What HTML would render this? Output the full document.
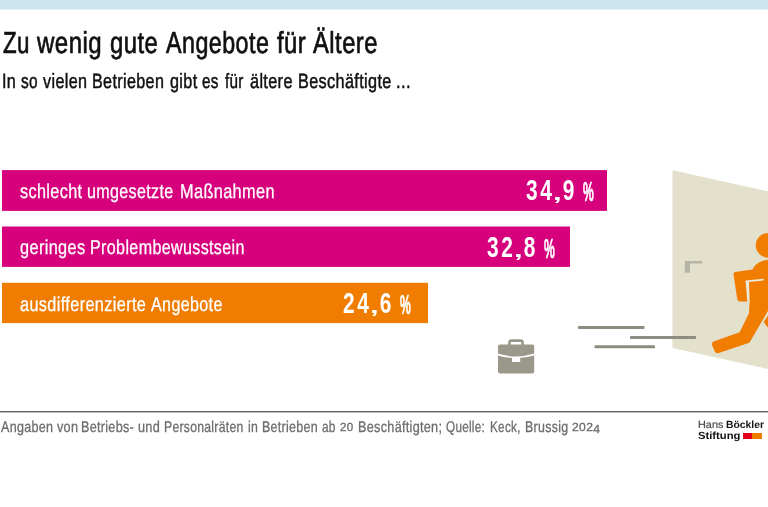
<!DOCTYPE html>
<html lang="de">
<head>
<meta charset="utf-8">
<title>Zu wenig gute Angebote für Ältere</title>
<style>
  html, body { margin: 0; padding: 0; }
  body {
    width: 768px; height: 507px; overflow: hidden; position: relative;
    background: #ffffff;
    font-family: "Liberation Sans", sans-serif;
    color: #161616;
  }
  .topband { position: absolute; left: 0; top: 0; width: 768px; height: 10px; background: linear-gradient(#cde5ee 0, #cde5ee 9px, #e8f3f7 9px, #e8f3f7 10px); }
  h1, p { margin: 0; font-weight: 400; }
  .w { position: absolute; white-space: nowrap; transform-origin: 0 0; line-height: 1; text-rendering: geometricPrecision; }
  .h .w { font-size: 30.4px; top: 28.00px; color: #101010; letter-spacing: 0.6px; -webkit-text-stroke: 0.7px #101010; }
  .s .w { font-size: 20.6px; top: 72.00px; color: #101010; letter-spacing: 0.45px; -webkit-text-stroke: 0.5px #101010; }
  .l1 .w { font-size: 20.1px; top: 182.00px; color: #ffffff; letter-spacing: 0.45px; -webkit-text-stroke: 0.3px #ffffff; }
  .l2 .w { font-size: 20.1px; top: 238.00px; color: #ffffff; letter-spacing: 0.45px; -webkit-text-stroke: 0.3px #ffffff; }
  .l3 .w { font-size: 20.1px; top: 295.00px; color: #ffffff; letter-spacing: 0.45px; -webkit-text-stroke: 0.3px #ffffff; }
  .f .w { font-size: 15.5px; top: 420.00px; color: #6c6c6c; letter-spacing: 0.35px; -webkit-text-stroke: 0.3px #6c6c6c; }
  .g1 .w { font-size: 10.4px; top: 421.00px; color: #4a4a4a; -webkit-text-stroke: 0.2px #4a4a4a; }
  .g2 .w { font-size: 10.4px; top: 421.00px; color: #111111; font-weight: 700; -webkit-text-stroke: 0px #111111; }
  .g3 .w { font-size: 10.4px; top: 432.00px; color: #111111; font-weight: 700; -webkit-text-stroke: 0px #111111; }
  .val { position: absolute; white-space: nowrap; transform-origin: 0 0; line-height: 1; color: #fff; font-size: 28.6px; font-weight: 700; letter-spacing: 3.53px; transform: scaleX(0.731); }
  .val .cm { display: inline-block; transform: scale(1.5,0.7); transform-origin: 35% 86%; }
  .val .pc { display: inline-block; font-weight: 700; font-size: 27.6px; letter-spacing: 0; -webkit-text-stroke: 0.7px #fff; transform: translateY(1.2px) scaleX(0.6); transform-origin: 0 50%; margin-left: -2.8px; }
  .v1 { left: 525.8px; top: 176.2px; }
  .v2 { left: 487.3px; top: 233.2px; }
  .v3 { left: 343.3px; top: 288.7px; }
  .rule { position: absolute; left: 0; top: 411px; width: 768px; height: 2px; background: linear-gradient(#686868 0, #686868 1px, #bdbdbd 1px, #bdbdbd 2px); }
  .sq { position: absolute; top: 433px; height: 6px; }
  .sq.r { left: 742.5px; width: 9.6px; background: #e2001a; }
  .sq.o { left: 752px; width: 10px; background: #f07d00; }
  svg.art { position: absolute; left: 0; top: 0; width: 768px; height: 507px; }
</style>
</head>
<body>
  <div class="topband"></div>
  <h1 class="h"><span class="w" style="left:3.00px;transform:scaleX(0.734);">Zu</span> <span class="w" style="left:37.00px;transform:scaleX(0.790);">wenig</span> <span class="w" style="left:110.00px;transform:scaleX(0.784);">gute</span> <span class="w" style="left:166.00px;transform:scaleX(0.766);">Angebote</span> <span class="w" style="left:277.00px;transform:scaleX(0.782);">für</span> <span class="w" style="left:313.00px;transform:scaleX(0.782);">Ältere</span></h1>
  <p class="s"><span class="w" style="left:2.00px;transform:scaleX(0.788);">In</span> <span class="w" style="left:21.00px;transform:scaleX(0.750);">so</span> <span class="w" style="left:43.00px;transform:scaleX(0.785);">vielen</span> <span class="w" style="left:92.00px;transform:scaleX(0.783);">Betrieben</span> <span class="w" style="left:170.00px;transform:scaleX(0.785);">gibt</span> <span class="w" style="left:202.00px;transform:scaleX(0.739);">es</span> <span class="w" style="left:225.00px;transform:scaleX(0.739);">für</span> <span class="w" style="left:250.00px;transform:scaleX(0.789);">ältere</span> <span class="w" style="left:298.00px;transform:scaleX(0.789);">Beschäftigte</span> <span class="w" style="left:396.00px;transform:scaleX(0.804);">...</span></p>

  <svg class="art" viewBox="0 0 768 507" aria-hidden="true">
    <rect x="2" y="170.1" width="605" height="40.8" fill="#d6007d"/>
    <rect x="2" y="226.5" width="568" height="40.4" fill="#d6007d"/>
    <rect x="2" y="282.8" width="426" height="40.3" fill="#f07d00"/>
    <polygon points="672.5,170.2 768,191.3 768,369 672.5,348" fill="#e3e0cb"/>
    <path d="M684.8 261 H702.2 V263.5 H690 V272.8 H684.8 Z" fill="#b7b5a5"/>
    <g fill="#8e8c7e">
      <rect x="578" y="326" width="66.5" height="3" rx="0.8"/>
      <rect x="630" y="336" width="66" height="3" rx="0.8"/>
      <rect x="594.5" y="345.3" width="60.5" height="3" rx="0.8"/>
    </g>
    <g>
      <rect x="498" y="344.6" width="36.2" height="29" rx="2" fill="#9a988a"/>
      <path d="M509.4 345 V342.6 Q509.4 340.6 511.4 340.6 H520.6 Q522.6 340.6 522.6 342.6 V345" fill="none" stroke="#9a988a" stroke-width="2.6"/>
      <path d="M497.5 354.4 Q516 360.2 534.7 354.4" fill="none" stroke="#fff" stroke-width="1.7"/>
      <rect x="512" y="357.8" width="8.2" height="4.2" fill="#fff"/>
    </g>
    <g fill="#f07d00">
      <circle cx="768.2" cy="245.3" r="12.4"/>
      <path d="M769 259.6 C760 260.5 755 264 752.5 269.6 L735.2 272.1 Q733.2 272.5 733.5 274.5 L737.3 299.2 Q737.7 301.6 740 301.6 L749.6 301.6 L749 313.3 L739.6 332.3 L714.2 341.3 Q711 342.5 712.2 345.4 L714.8 351.5 Q715.9 353.9 718.7 353 L748.6 343 Q749.6 342.7 750.2 341.6 L769 309 Z"/>
      <path d="M763.6 321.9 L769 329 L769 314 Z"/>
    </g>
    <path d="M745.5 280.4 L763.6 278.8 L763.6 280.4 L749 282 L749.7 302.2 L747.4 302.2 Z" fill="#ebe9da"/>
  </svg>

  <span class="val v1">34<span class="cm">,</span>9 <span class="pc">%</span></span>
  <span class="val v2">32<span class="cm">,</span>8 <span class="pc">%</span></span>
  <span class="val v3">24<span class="cm">,</span>6 <span class="pc">%</span></span>
  <div class="l1"><span class="w" style="left:20.00px;transform:scaleX(0.808);">schlecht</span> <span class="w" style="left:87.00px;transform:scaleX(0.799);">umgesetzte</span> <span class="w" style="left:180.00px;transform:scaleX(0.812);">Maßnahmen</span></div>
  <div class="l2"><span class="w" style="left:20.00px;transform:scaleX(0.812);">geringes</span> <span class="w" style="left:90.00px;transform:scaleX(0.800);">Problembewusstsein</span></div>
  <div class="l3"><span class="w" style="left:20.00px;transform:scaleX(0.810);">ausdifferenzierte</span> <span class="w" style="left:151.00px;transform:scaleX(0.800);">Angebote</span></div>

  <div class="rule"></div>
  <p class="f"><span class="w" style="left:1.00px;transform:scaleX(0.811);">Angaben</span> <span class="w" style="left:57.00px;transform:scaleX(0.815);">von</span> <span class="w" style="left:81.00px;transform:scaleX(0.814);">Betriebs-</span> <span class="w" style="left:138.00px;transform:scaleX(0.819);">und</span> <span class="w" style="left:164.00px;transform:scaleX(0.787);">Personalräten</span> <span class="w" style="left:248.00px;transform:scaleX(0.793);">in</span> <span class="w" style="left:262.00px;transform:scaleX(0.804);">Betrieben</span> <span class="w" style="left:322.00px;transform:scaleX(0.766);">ab</span> <span class="w" style="left:340.00px;transform:scaleX(0.984);font-size:11.78px;margin-top:2.16px;">20</span> <span class="w" style="left:358.00px;transform:scaleX(0.817);">Beschäftigten;</span> <span class="w" style="left:446.00px;transform:scaleX(0.757);">Quelle:</span> <span class="w" style="left:490.00px;transform:scaleX(0.757);">Keck,</span> <span class="w" style="left:525.00px;transform:scaleX(0.802);">Brussig</span> <span class="w" style="left:572.00px;transform:scaleX(1.029);font-size:11.78px;margin-top:2.16px;">202<span class="d4" style="display:inline-block;transform:translateY(0.17em)">4</span></span></p>
  <div class="logo"><span class="g1"><span class="w" style="left:698.00px;transform:scaleX(1.046);">Hans</span></span> <span class="g2"><span class="w" style="left:726.00px;transform:scaleX(0.996);">Böckler</span></span> <span class="g3"><span class="w" style="left:698.00px;transform:scaleX(1.079);">Stiftung</span></span></div>
  <div class="sq r"></div><div class="sq o"></div>
</body>
</html>
